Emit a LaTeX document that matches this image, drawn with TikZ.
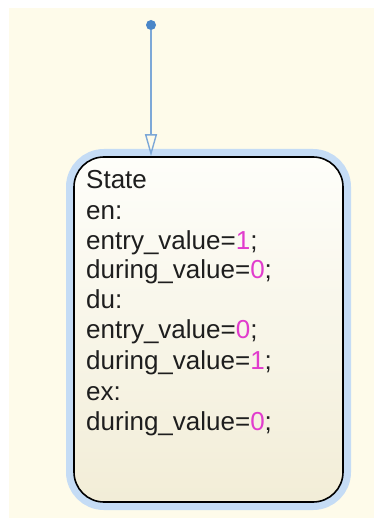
\documentclass[tikz,border=0pt]{standalone}
\usepackage{fontspec}
\setmainfont{Liberation Sans}
\usetikzlibrary{arrows.meta}
\definecolor{bgcream}{RGB}{254,251,234}
\definecolor{halo}{RGB}{197,220,245}
\definecolor{wire}{RGB}{125,168,215}
\definecolor{dotblue}{RGB}{74,134,200}
\definecolor{numpink}{RGB}{225,60,205}
\definecolor{topfill}{RGB}{254,254,250}
\definecolor{botfill}{RGB}{242,237,215}
\definecolor{txt}{RGB}{30,30,30}
\tikzset{
  statebox/.style={rectangle, rounded corners=30pt, draw=black, line width=1.6pt,
    top color=topfill, bottom color=botfill,
    preaction={draw=halo, line width=16pt},
    minimum width=269pt, minimum height=345pt, inner sep=0pt},
  startdot/.style={circle, fill=dotblue, minimum size=10pt, inner sep=0pt},
  codeline/.style={anchor=base west, inner sep=0pt, text=txt,
    font=\fontsize{26}{30}\selectfont},
  transition/.style={draw=wire, line width=1.6pt,
    -{Triangle[open, length=22pt, width=12pt, line width=1.4pt]}},
}
\newcommand{\num}[1]{\textcolor{numpink}{#1}}
\begin{document}
\begin{tikzpicture}[x=1pt, y=-1pt]
\useasboundingbox (0,0) rectangle (374,521);
\fill[bgcream] (9,8) rectangle (374,518);
\node[statebox] (state) at (208.5,329.5) {};
\node[startdot] (start) at (151,25) {};
\draw[transition] (start) -- (start |- state.north);
\node[codeline] (l1) at (86,189) {State};
\node[codeline] (l2) at (86,219) {en:};
\node[codeline] (l3) at (86,249) {entry\_value=\num{1};};
\node[codeline] (l4) at (86,278.5) {during\_value=\num{0};};
\node[codeline] (l5) at (86,308.5) {du:};
\node[codeline] (l6) at (86,338.5) {entry\_value=\num{0};};
\node[codeline] (l7) at (86,369) {during\_value=\num{1};};
\node[codeline] (l8) at (86,400) {ex:};
\node[codeline] (l9) at (86,430) {during\_value=\num{0};};
\end{tikzpicture}
\end{document}
